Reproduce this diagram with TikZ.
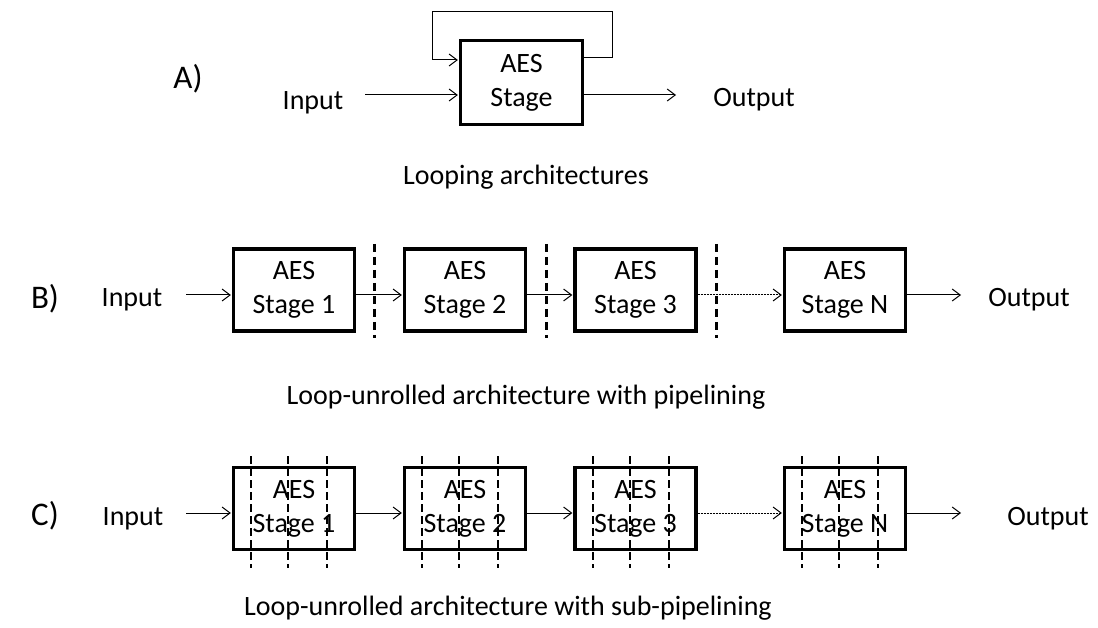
\documentclass[tikz,border=0pt]{standalone}
\usepackage{fontspec}
\setmainfont{Carlito}
\usetikzlibrary{arrows.meta}

\begin{document}
\begin{tikzpicture}[x=1pt,y=-1pt,
    stageBox/.style={draw, line width=3.2pt, minimum width=121pt, minimum height=82pt,
        inner sep=0pt, align=center, font=\fontsize{28}{34}\selectfont},
    plainText/.style={font=\fontsize{28}{34}\selectfont, anchor=base, inner sep=0pt},
    rowLabel/.style={font=\fontsize{33}{40}\selectfont, anchor=base, inner sep=0pt},
    flow/.style={line width=1pt, -{Straight Barb[length=8pt,width=12pt]}, shorten >=1pt},
    dottedFlow/.style={flow, dash pattern=on 2pt off 1pt},
    stageCut/.style={line width=3pt, dash pattern=on 8pt off 5pt},
    subCut/.style={line width=1.5pt, dash pattern=on 8pt off 4pt}]
    \def\rowB{290}
    \def\rowC{508.5}

    \useasboundingbox (0,0) rectangle (1098,628);

    % A) looping architecture
    \node[rowLabel] (labelA) at (188,89) {A)};
    \node[plainText] (inputA) at (313,110) {Input};
    \node[plainText] (outputA) at (754,107) {Output};
    \node[stageBox, minimum height=84pt, minimum width=122pt] (stageA) at (521.5,82.5) {AES\\Stage};
    \coordinate (srcA) at (365,95);
    \coordinate (dstA) at (677,95);
    \coordinate (loopOut) at (584,58);
    \coordinate (loopR) at (612,12);
    \coordinate (loopIn) at (432,60);
    \draw[flow] (srcA) -- (srcA -| stageA.west);
    \draw[flow] (dstA -| stageA.east) -- (dstA);
    \draw[flow] (loopOut -| stageA.east) -| (loopR) -| (loopIn) -- (loopIn -| stageA.west);
    \node[plainText] (captionA) at (526,185) {Looping architectures};

    % B) loop-unrolled with pipelining
    \node[rowLabel] (labelB) at (45,309) {B)};
    \node[plainText] (inputB) at (132,307) {Input};
    \node[plainText] (outputB) at (1029,307) {Output};
    \node[stageBox] (b1) at (294,\rowB) {AES\\Stage 1};
    \node[stageBox] (b2) at (465,\rowB) {AES\\Stage 2};
    \node[stageBox] (b3) at (635.5,\rowB) {AES\\Stage 3};
    \node[stageBox] (bN) at (845,\rowB) {AES\\Stage N};
    \coordinate (srcB) at (186,295);
    \coordinate (dstB) at (962,295);
    \draw[flow] (srcB) -- (srcB -| b1.west);
    \draw[flow] ([yshift=-5pt]b1.east) -- ([yshift=-5pt]b2.west);
    \draw[flow] ([yshift=-5pt]b2.east) -- ([yshift=-5pt]b3.west);
    \draw[dottedFlow] ([yshift=-5pt]b3.east) -- ([yshift=-5pt]bN.west);
    \draw[flow] ([yshift=-5pt]bN.east) -- (dstB);
    \foreach \cx in {374,546,716}
        \draw[stageCut] (\cx,244) -- (\cx,338);
    \node[plainText] (captionB) at (526,404) {Loop-unrolled architecture with pipelining};

    % C) loop-unrolled with sub-pipelining
    \node[rowLabel] (labelC) at (45,525) {C)};
    \node[plainText] (inputC) at (133,525) {Input};
    \node[plainText] (outputC) at (1048,525) {Output};
    \node[stageBox] (c1) at (294,\rowC) {AES\\Stage 1};
    \node[stageBox] (c2) at (465,\rowC) {AES\\Stage 2};
    \node[stageBox] (c3) at (635.5,\rowC) {AES\\Stage 3};
    \node[stageBox] (cN) at (845,\rowC) {AES\\Stage N};
    \coordinate (srcC) at (186,513);
    \coordinate (dstC) at (962,513);
    \draw[flow] (srcC) -- (srcC -| c1.west);
    \draw[flow] ([yshift=-4.5pt]c1.east) -- ([yshift=-4.5pt]c2.west);
    \draw[flow] ([yshift=-4.5pt]c2.east) -- ([yshift=-4.5pt]c3.west);
    \draw[dottedFlow] ([yshift=-4.5pt]c3.east) -- ([yshift=-4.5pt]cN.west);
    \draw[flow] ([yshift=-4.5pt]cN.east) -- (dstC);
    \foreach \bx in {232,403,574,783}
        \foreach \off in {19,56,95}
            \draw[subCut] (\bx+\off,456) -- (\bx+\off,568);
    \node[plainText] (captionC) at (508,615) {Loop-unrolled architecture with sub-pipelining};

\end{tikzpicture}
\end{document}
